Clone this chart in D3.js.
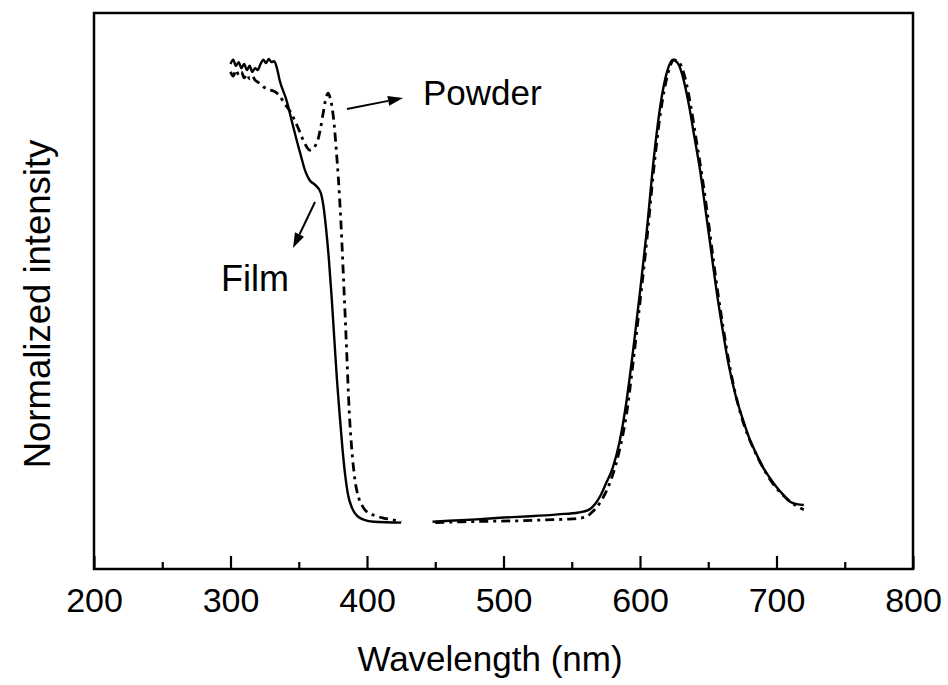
<!DOCTYPE html>
<html>
<head>
<meta charset="utf-8">
<script src="https://cdn.jsdelivr.net/npm/d3@7"></script>
<style>
  html, body { margin: 0; padding: 0; background: #fff; }
  svg { display: block; font-family: "Liberation Sans", Arial, Helvetica, sans-serif; }
</style>
</head>
<body>
<svg id="chart" width="948" height="685"></svg>
<script>
// ---- data (wavelength nm, normalized intensity) ----
const filmExcWl = [300,302,304,306,308,310,312,314,316,318,320,322,324,326,328,330,332,334,336,341,346,351,355,358,362,366,368,370,372,374,376,378,380,382,384,386,389,393,398,405,425];
const filmExcI  = [0.990,0.999,0.986,0.994,0.981,0.990,0.977,0.986,0.973,0.981,0.977,0.990,0.999,0.992,1.001,0.994,0.996,0.981,0.955,0.912,0.854,0.798,0.757,0.739,0.729,0.713,0.685,0.635,0.571,0.491,0.399,0.308,0.232,0.161,0.103,0.062,0.032,0.014,0.006,0.002,0.000];

const powderExcWl = [300,302,304,306,308,310,312,314,316,318,320,322,324,326,328,330,332,334,336,338,340,342,344,346,348,350,352,354,356,358,360,362,364,366,368,370,371.5,373,374.5,376,377.5,379,381,383,385,387,389,391,394,397,400,405,412,419,425];
const powderExcI  = [0.973,0.964,0.977,0.966,0.973,0.960,0.968,0.958,0.964,0.955,0.951,0.947,0.941,0.937,0.935,0.933,0.931,0.927,0.921,0.912,0.903,0.895,0.886,0.875,0.862,0.849,0.834,0.821,0.810,0.804,0.806,0.813,0.826,0.852,0.886,0.917,0.927,0.917,0.895,0.858,0.804,0.744,0.642,0.513,0.377,0.239,0.153,0.096,0.053,0.034,0.023,0.016,0.010,0.006,0.002];

const filmEmWl = [448,460,480,500,520,540,555,562,567,571,575,580,585,590,595,600,605,610,615,620,624,628,632,636,640,644,648,652,656,660,665,670,675,680,685,690,695,700,705,710,715,720];
const filmEmI  = [0.002,0.004,0.007,0.011,0.014,0.018,0.022,0.027,0.040,0.058,0.084,0.118,0.174,0.260,0.373,0.498,0.631,0.783,0.902,0.975,0.999,0.990,0.955,0.899,0.830,0.761,0.675,0.589,0.502,0.426,0.340,0.275,0.226,0.183,0.150,0.120,0.097,0.077,0.060,0.045,0.040,0.038];

const powderEmWl = [450,470,490,510,530,550,560,565,570,575,580,585,590,595,600,605,610,615,620,625,629,633,637,641,645,649,653,657,661,666,671,676,681,686,691,696,701,706,711,716,720];
const powderEmI  = [0.000,0.002,0.003,0.004,0.006,0.008,0.012,0.023,0.040,0.066,0.103,0.157,0.232,0.347,0.476,0.610,0.761,0.884,0.964,0.999,0.992,0.960,0.903,0.830,0.757,0.675,0.584,0.497,0.420,0.333,0.265,0.213,0.174,0.142,0.114,0.090,0.071,0.056,0.043,0.034,0.028];

const xMajorTicks = [200,300,400,500,600,700,800];
const xMinorTicks = [250,350,450,550,650,750];
const xTitle = "Wavelength (nm)";
const yTitle = "Normalized intensity";
const labelPowder = "Powder";
const labelFilm = "Film";

// ---- layout ----
const L = 94, R = 913, T = 13, B = 569;
const svg = d3.select("#chart");

const x = d3.scaleLinear().domain([200, 800]).range([L, R]);
const y = d3.scaleLinear().domain([-0.1, 1.1]).range([B, T]);

const zip = (a, b) => a.map((v, i) => [v, b[i]]);
const line = d3.line().x(d => x(d[0])).y(d => y(d[1])).curve(d3.curveMonotoneX);

// curves
const g = svg.append("g");
g.append("path").datum(zip(filmExcWl, filmExcI)).attr("d", line)
  .attr("fill", "none").attr("stroke", "#000").attr("stroke-width", 2.4).attr("stroke-linejoin", "round");
g.append("path").datum(zip(filmEmWl, filmEmI)).attr("d", line)
  .attr("fill", "none").attr("stroke", "#000").attr("stroke-width", 2.4).attr("stroke-linejoin", "round");
g.append("path").datum(zip(powderExcWl, powderExcI)).attr("d", line)
  .attr("fill", "none").attr("stroke", "#000").attr("stroke-width", 2.8)
  .attr("stroke-dasharray", "9,5,3,5").attr("stroke-linecap", "butt");
g.append("path").datum(zip(powderEmWl, powderEmI)).attr("d", line)
  .attr("fill", "none").attr("stroke", "#000").attr("stroke-width", 2.8)
  .attr("stroke-dasharray", "9,5,3,5").attr("stroke-linecap", "butt");

// frame
svg.append("rect").attr("x", L).attr("y", T).attr("width", R - L).attr("height", B - T)
  .attr("fill", "none").attr("stroke", "#000").attr("stroke-width", 2.5);

// x axis
const axMajor = d3.axisBottom(x).tickValues(xMajorTicks).tickSizeInner(-13).tickSizeOuter(0)
  .tickPadding(19).tickFormat(d3.format("d"));
const gx = svg.append("g").attr("transform", `translate(0,${B})`).call(axMajor);
gx.select(".domain").remove();
gx.selectAll(".tick line").attr("stroke", "#000").attr("stroke-width", 2.2);
gx.selectAll(".tick text").attr("font-size", 34).attr("fill", "#000")
  .attr("font-family", '"Liberation Sans", Arial, sans-serif');

const axMinor = d3.axisBottom(x).tickValues(xMinorTicks).tickSizeInner(-7).tickSizeOuter(0).tickFormat("");
const gxm = svg.append("g").attr("transform", `translate(0,${B})`).call(axMinor);
gxm.select(".domain").remove();
gxm.selectAll(".tick line").attr("stroke", "#000").attr("stroke-width", 2.2);

// titles
svg.append("text").attr("x", 490).attr("y", 671).attr("text-anchor", "middle")
  .attr("font-size", 35).attr("fill", "#000").text(xTitle);
svg.append("text").attr("transform", "translate(50,304) rotate(-90)").attr("text-anchor", "middle")
  .attr("font-size", 36.5).attr("fill", "#000").text(yTitle);

// annotations
svg.append("text").attr("x", 423).attr("y", 105).attr("font-size", 35).attr("fill", "#000").text(labelPowder);
svg.append("text").attr("x", 221).attr("y", 291).attr("font-size", 36).attr("fill", "#000").text(labelFilm);

function arrow(x1, y1, x2, y2) {
  const ang = Math.atan2(y2 - y1, x2 - x1);
  const len = 15, w = 5;
  const bx = x2 - len * Math.cos(ang), by = y2 - len * Math.sin(ang);
  svg.append("line").attr("x1", x1).attr("y1", y1).attr("x2", bx).attr("y2", by)
    .attr("stroke", "#000").attr("stroke-width", 2);
  const px = -Math.sin(ang) * w, py = Math.cos(ang) * w;
  svg.append("path").attr("d", `M${x2},${y2}L${bx + px},${by + py}L${bx - px},${by - py}Z`).attr("fill", "#000");
}
arrow(347, 109, 403, 98);
arrow(315, 202, 293, 248);
</script>
</body>
</html>
